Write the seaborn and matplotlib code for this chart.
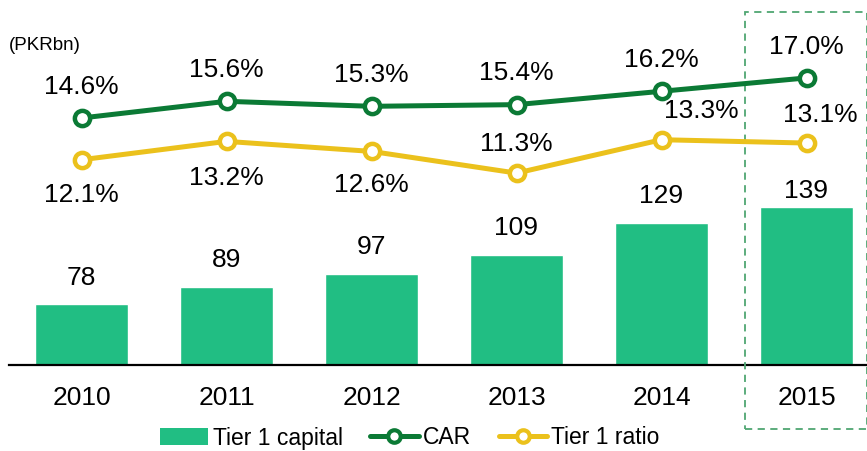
import matplotlib.pyplot as plt
import matplotlib.transforms as mtransforms
from matplotlib.lines import Line2D
from matplotlib.patches import Patch, Rectangle
import pandas as pd
import seaborn as sns

years = ["2010", "2011", "2012", "2013", "2014", "2015"]
tier1_capital = [78, 89, 97, 109, 129, 139]
car = [14.6, 15.6, 15.3, 15.4, 16.2, 17.0]
tier1_ratio = [12.1, 13.2, 12.6, 11.3, 13.3, 13.1]

BAR_C = "#21BE83"
CAR_C = "#0B7A35"
T1_C = "#EBC11C"

sns.set_theme(style="white")
plt.rcParams["font.family"] = ["Liberation Sans", "DejaVu Sans"]
plt.rcParams["text.color"] = "black"

df = pd.DataFrame({"year": years, "capital": tier1_capital, "car": car, "t1": tier1_ratio})

fig = plt.figure(figsize=(8.67, 4.51), dpi=100)
ax = fig.add_axes([9 / 867, 86 / 451, 858 / 867, 365 / 451])
sns.barplot(data=df, x="year", y="capital", color=BAR_C, saturation=1, width=0.64, ax=ax)
ax.set_xlim(-0.5, -0.5 + 858 / 145)
ax.set_ylim(40, 40 + 365 / 1.6)
for i, v in enumerate(tier1_capital):
    off = 11 if i == 5 else 19
    ax.annotate(str(v), (i, v), xytext=(0, off), textcoords="offset points",
                ha="center", va="center", fontsize=19, color="black")

ax2 = ax.twinx()
ax2.set_ylim(14.6 - 247 / 16.7, 14.6 + 118 / 16.7)
for col, c in (("car", CAR_C), ("t1", T1_C)):
    sns.lineplot(data=df, x="year", y=col, color=c, ax=ax2, lw=3.6, marker="o",
                 markersize=11, markerfacecolor="white", markeredgecolor=c,
                 markeredgewidth=3.2, sort=False, legend=False)
for i, v in enumerate(car):
    ax2.annotate(f"{v:.1f}%", (i, v), xytext=(0, 22.5), textcoords="offset points",
                 ha="center", va="center", fontsize=19, color="black")
t1_offsets = [(0, -25.5), (0, -26.5), (0, -24.5), (0, 21), (29, 20.5), (10, 20.5)]
for i, v in enumerate(tier1_ratio):
    ax2.annotate(f"{v:.1f}%", (i, v), xytext=t1_offsets[i], textcoords="offset points",
                 ha="center", va="center", fontsize=19, color="black")

for a in (ax, ax2):
    for s in ("top", "right", "left"):
        a.spines[s].set_visible(False)
    a.set_yticks([])
    a.set_ylabel("")
ax2.spines["bottom"].set_visible(False)
ax.spines["bottom"].set_color("black")
ax.spines["bottom"].set_linewidth(1.6)
ax.set_xlabel("")
ax.tick_params(axis="x", length=0, pad=15, labelsize=19, labelcolor="black")

# highlight box around 2015
trans = mtransforms.blended_transform_factory(ax.transData, ax.transAxes)
ax.add_patch(Rectangle((4.579, -0.175), 0.835, 1.142, transform=trans, fill=False,
                       edgecolor="#4FA672", lw=1.3, ls=(0, (4, 3)), clip_on=False, zorder=5))

fig.text(9 / 867, 1 - 45 / 451, "(PKRbn)", fontsize=13.5, ha="left", va="center")

handles = [
    Patch(facecolor=BAR_C, edgecolor="none"),
    Line2D([], [], color=CAR_C, lw=3.6, marker="o", markersize=9,
           markerfacecolor="white", markeredgecolor=CAR_C, markeredgewidth=3),
    Line2D([], [], color=T1_C, lw=3.6, marker="o", markersize=9,
           markerfacecolor="white", markeredgecolor=T1_C, markeredgewidth=3),
]
fig.legend(handles, ["Tier 1 capital", "CAR", "Tier 1 ratio"], loc="center",
           bbox_to_anchor=(410 / 867, 1 - 438 / 451), ncol=3, frameon=False,
           fontsize=16.5, handlelength=2.1, handletextpad=0.2, columnspacing=1.2,
           handleheight=0.8, labelcolor="black")

fig.savefig("out.png", dpi=100)
